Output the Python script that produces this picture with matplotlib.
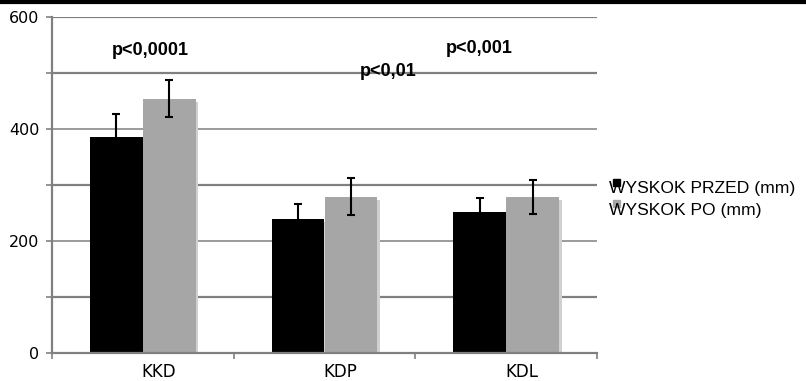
import numpy as np
import matplotlib
matplotlib.use("Agg")
import matplotlib.pyplot as plt
import matplotlib.patheffects as pe
from matplotlib.patches import Rectangle

categories = ["KKD", "KDP", "KDL"]
przed = [386, 239, 252]
przed_err = [41, 27, 25]
po = [454, 279, 279]
po_err = [33, 33, 30]
p_labels = ["p<0,0001", "p<0,01", "p<0,001"]
p_x = [0.04, 1.35, 1.85]
p_heights = [540, 503, 543]
series_names = ["WYSKOK PRZED (mm)", "WYSKOK PO (mm)"]

W, H = 806, 381
fig = plt.figure(figsize=(W / 100, H / 100), dpi=100)
ax = fig.add_axes([52 / W, 1 - 353 / H, 545 / W, 336 / H])

x = np.arange(len(categories))
bw = 0.29
grid_c = "#808080"
shadow = [pe.SimplePatchShadow(offset=(2, -2), shadow_rgbFace="#d0d0d0", alpha=1), pe.Normal()]

# gridlines: labelled ones (200, 400) are thinner in the source
for v in range(100, 601, 100):
    lw = 1.1 if v in (200, 400) else 1.6
    ax.axhline(v, color=grid_c, lw=lw, zorder=0)

b1 = ax.bar(x - bw / 2, przed, bw, color="black", zorder=2)
b2 = ax.bar(x + bw / 2, po, bw, color="#a6a6a6", zorder=2)
for bars in (b1, b2):
    for b in bars:
        b.set_path_effects(shadow)

ax.errorbar(x - bw / 2, przed, yerr=przed_err, fmt="none", ecolor="black",
            elinewidth=1.5, capsize=3, capthick=1.5, zorder=3)
ax.errorbar(x + bw / 2, po, yerr=po_err, fmt="none", ecolor="black",
            elinewidth=1.5, capsize=3, capthick=1.5, zorder=3)

for lab, px, hgt in zip(p_labels, p_x, p_heights):
    ax.text(px, hgt, lab, ha="center", va="center", fontsize=13,
            fontweight="bold", family="Liberation Sans", zorder=4)

ax.set_xlim(-0.5, 2.5)
ax.set_ylim(0, 600)
ax.set_yticks([0, 200, 400, 600])
ax.set_yticks(range(100, 600, 200), minor=True)
ax.set_xticks([-0.5, 0.5, 1.5, 2.5], minor=True)
# category labels sit a little right of the group centres in the source
ax.set_xticks(x + 0.088)
ax.set_xticklabels(categories, fontsize=12)
ax.tick_params(axis="x", which="major", length=0, pad=7)
ax.tick_params(axis="x", which="minor", length=4, color=grid_c, width=1.2, direction="out")
ax.tick_params(axis="y", which="both", length=4, color=grid_c, width=1.2, labelsize=11.5, pad=5)

for s in ("top", "right"):
    ax.spines[s].set_visible(False)
for s in ("left", "bottom"):
    ax.spines[s].set_color(grid_c)
    ax.spines[s].set_linewidth(1.6)

# legend drawn by hand: small squares overlapping the text, as in the source
leg_y = [189 / H, 210 / H]
for name, col, yy in zip(series_names, ["black", "#a6a6a6"], leg_y):
    fig.patches.append(Rectangle((613 / W, 1 - yy + 3 / H), 7 / W, 7 / H, color=col,
                                 transform=fig.transFigure, zorder=1))
    fig.text(609 / W, 1 - yy, name, fontsize=12.6, family="Liberation Sans",
             va="center", ha="left", zorder=2)

# thick black border line at the top of the image
fig.add_artist(plt.Line2D([0, 1], [1 - 1.5 / H, 1 - 1.5 / H], color="black", lw=3,
                          transform=fig.transFigure))

fig.savefig("out.png", dpi=100)
